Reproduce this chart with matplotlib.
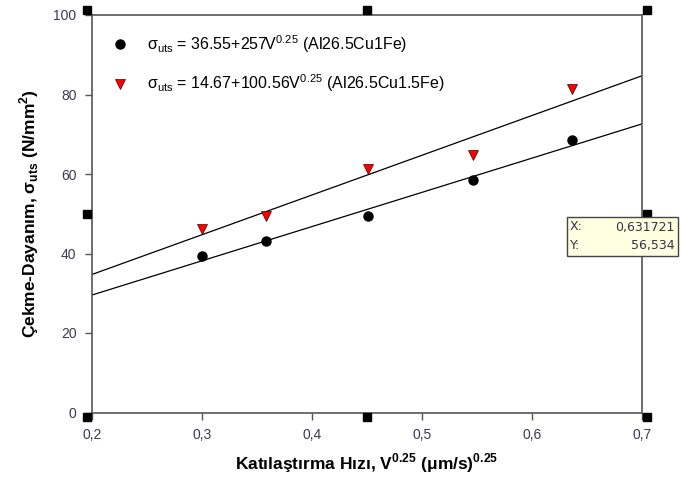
import numpy as np
from matplotlib import pyplot as plt
from matplotlib.ticker import FuncFormatter
from matplotlib.transforms import offset_copy

plt.rcParams['font.family'] = ['Liberation Sans', 'DejaVu Sans']

# Data
v025 = [0.3006, 0.3585, 0.4515, 0.5469, 0.6369]
uts_1fe = [39.4, 43.2, 49.4, 58.5, 68.6]
uts_15fe = [46.1, 49.5, 61.2, 64.8, 81.3]

label_1fe = r'σ$_{\mathregular{uts}}$ = 36.55+257V$^{\mathregular{0.25}}$ (Al26.5Cu1Fe)'
label_15fe = r'σ$_{\mathregular{uts}}$ = 14.67+100.56V$^{\mathregular{0.25}}$ (Al26.5Cu1.5Fe)'

x_ticks = [0.2, 0.3, 0.4, 0.5, 0.6, 0.7]
y_ticks = [0, 20, 40, 60, 80, 100]
cursor_x = '0,631721'
cursor_y = '56,534'

fig = plt.figure(figsize=(6.82, 4.82), dpi=100)
ax = fig.add_axes([91.7/682, 1-412.5/482, 550/682, 397.5/482])

#Fit lines over full x range
xfit = np.array([0.2, 0.7])
for yy in (uts_1fe, uts_15fe):
    p = np.polyfit(v025, yy, 1)
    ax.plot(xfit, np.polyval(p, xfit), color='black', lw=0.9, zorder=2)

h1, = ax.plot(v025, uts_1fe, 'o', color='black', ms=6.5, ls='none', zorder=3)
h2, = ax.plot(v025, uts_15fe, 'v', mfc='red', mec='#400000', mew=0.5, ms=7.5, ls='none', zorder=3)

ax.set_xlim(0.2, 0.7)
ax.set_ylim(0, 100)
ax.set_xticks(x_ticks)
ax.set_yticks(y_ticks)
ax.xaxis.set_major_formatter(FuncFormatter(lambda v, pos: ('%.1f' % v).replace('.', ',')))
ax.tick_params(direction='out', length=5, width=1, colors='#555555', labelcolor='#3b3b4e',
               labelsize=10, pad=6)
for s in ax.spines.values():
    s.set_color('#555555')
    s.set_linewidth(1.2)

ax.set_xlabel(r'Katılaştırma Hızı, V$^{\mathregular{0.25}}$ (μm/s)$^{\mathregular{0.25}}$',
              fontsize=12.5, fontweight='bold', labelpad=7)
ax.set_ylabel(r'Çekme-Dayanım, σ$_{\mathregular{uts}}$ (N/mm$^{\mathregular{2}}$)',
              fontsize=12.5, fontweight='bold', labelpad=9)

ax.legend([h1, h2], [label_1fe, label_15fe], loc='upper left', bbox_to_anchor=(0.01, 0.97),
          frameon=False, fontsize=11.5, labelspacing=1.1, handletextpad=0.7, borderaxespad=0)

# selection handles, sitting just outside the frame
hx = [0, 0.5, 1, 0, 1, 0, 0.5, 1]
hy = [0, 0, 0, 0.5, 0.5, 1, 1, 1]
for a, b in zip(hx, hy):
    dx = {0: -3.6, 0.5: 0, 1: 3.6}[a]
    dy = {0: -3.0, 0.5: 0, 1: 3.6}[b]
    tr = offset_copy(ax.transAxes, fig=fig, x=dx, y=dy, units='points')
    ax.plot(a, b, 's', color='black', ms=6, transform=tr, clip_on=False, zorder=5)

# data cursor tooltip
fig.patches.append(plt.Rectangle((567/682, 1-256/482), 111/682, 39/482, transform=fig.transFigure,
                                 facecolor='#ffffe1', edgecolor='#444444', lw=1, zorder=10))
fig.text(570/682, 1-227/482, 'X:', fontsize=9, color='#333344', va='center', family='DejaVu Sans', zorder=11)
fig.text(570/682, 1-246/482, 'Y:', fontsize=9, color='#333344', va='center', family='DejaVu Sans', zorder=11)
fig.text(675/682, 1-227/482, cursor_x, fontsize=9, color='#333344', va='center', ha='right',
         family='DejaVu Sans', zorder=11)
fig.text(675/682, 1-246/482, cursor_y, fontsize=9, color='#333344', va='center', ha='right',
         family='DejaVu Sans', zorder=11)

fig.savefig('out.png', dpi=100)
